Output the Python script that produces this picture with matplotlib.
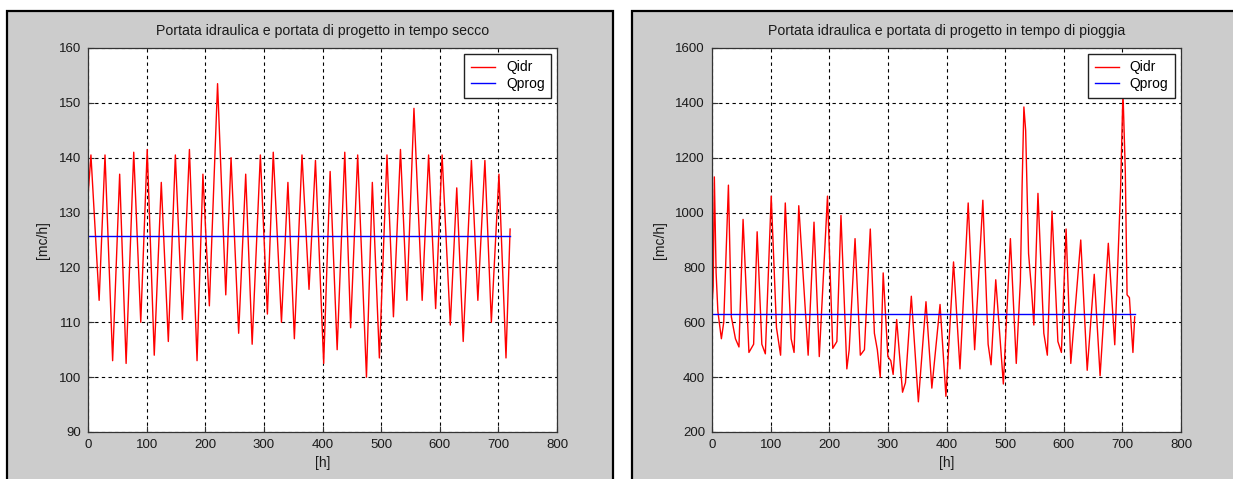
import matplotlib
matplotlib.use("Agg")
import matplotlib.pyplot as plt
from matplotlib.patches import Rectangle

plt.rcParams['font.family'] = ['Liberation Sans', 'DejaVu Sans']

# tempo secco: hourly flow, daily maxima / minima [h], [mc/h]
secco_ore = [0, 5, 19, 29, 42, 54, 65, 78, 90, 101, 113, 125, 137, 149, 161,
             173, 186, 196, 207, 221, 235, 244, 257, 269, 280, 294, 306, 316,
             330, 341, 352, 365, 377, 388, 402, 413, 425, 438, 448, 460, 475,
             485, 497, 510, 521, 533, 544, 556, 570, 581, 593, 604, 618, 629,
             640, 654, 665, 677, 688, 701, 713, 720]
secco_qidr = [133, 140.5, 114, 140.5, 103, 137, 102.5, 141, 110, 141.5, 104,
              135.5, 106.5, 140.5, 110.5, 141.5, 103, 137, 113, 153.5, 115,
              140, 108, 137, 106, 140.5, 111.5, 141, 110, 135.5, 107, 140.5,
              116, 139.5, 102.5, 137.5, 105, 141, 109, 140.5, 100, 135.5,
              103.5, 140.5, 111, 141.5, 114, 149, 114, 140.5, 112.5, 140.5,
              109.5, 134.5, 106.5, 139.5, 114, 139.5, 110, 137, 103.5, 127]
secco_qprog = 125.7

# tempo di pioggia
pioggia_ore = [0, 2, 4, 7, 10, 16, 20, 28, 33, 40, 46, 53, 63, 71, 77, 85,
               91, 101, 110, 117, 125, 135, 140, 148, 164, 174, 183, 197,
               206, 213, 220, 230, 234, 244, 253, 260, 270, 277, 282, 287,
               292, 300, 305, 309, 315, 325, 330, 340, 352, 365, 375, 389,
               399, 412, 423, 437, 448, 462, 471, 476, 484, 497, 509, 519,
               526, 529, 532, 535, 540, 545, 549, 556, 566, 572, 580, 590,
               596, 604, 612, 629, 640, 652, 662, 676, 687, 697, 701, 705,
               708, 712, 718, 721]
pioggia_qidr = [660, 730, 1130, 780, 640, 540, 600, 1100, 620, 540, 510, 975,
                490, 520, 930, 520, 485, 1060, 580, 480, 1035, 540, 490, 1025,
                480, 965, 475, 1060, 505, 530, 990, 430, 500, 905, 480, 500,
                940, 560, 500, 400, 780, 475, 460, 410, 610, 345, 380, 695,
                310, 675, 360, 665, 330, 820, 430, 1035, 500, 1045, 520, 445,
                755, 375, 905, 450, 750, 1100, 1385, 1300, 850, 720, 590,
                1070, 560, 480, 1005, 530, 490, 940, 450, 900, 425, 775, 405,
                888, 518, 1090, 1440, 1150, 700, 690, 490, 620]
pioggia_qprog = 630

W, H = 1233, 479
fig = plt.figure(figsize=(W / 100, H / 100), dpi=100, facecolor='white')

# grey MATLAB-like figure panels with black frame
for x0, x1 in [(7, 613), (632, 1250)]:
    fig.patches.append(Rectangle((x0 / W, -0.05), (x1 - x0) / W, 1 - 11 / H + 0.05,
                                 transform=fig.transFigure, facecolor='#cccccc',
                                 edgecolor='black', linewidth=1.6, zorder=-5))

fs = 9.5
pannelli = [
    (88, 'Portata idraulica e portata di progetto in tempo secco',
     secco_ore, secco_qidr, secco_qprog, (90, 160), range(90, 161, 10)),
    (712, 'Portata idraulica e portata di progetto in tempo di pioggia',
     pioggia_ore, pioggia_qidr, pioggia_qprog, (200, 1600), range(200, 1601, 200)),
]

for left, titolo, ore, qidr, qprog, ylim, yticks in pannelli:
    ax = fig.add_axes([left / W, (H - 432) / H, 469 / W, 384 / H])
    ax.set_facecolor('white')
    ax.plot(ore, qidr, color='#ff0000', lw=1.0, label='Qidr')
    ax.plot([0, ore[-1]], [qprog, qprog], color='#0000ff', lw=1.0, label='Qprog')
    ax.set_xlim(0, 800)
    ax.set_ylim(*ylim)
    ax.set_xticks(range(0, 801, 100))
    ax.set_yticks(list(yticks))
    ax.grid(True, color='black', linestyle=(0, (3, 3)), linewidth=0.8)
    ax.set_axisbelow(True)
    ax.tick_params(direction='in', length=4, width=0.8, labelsize=fs,
                   colors='#333333', labelcolor='#1a1a1a', pad=5)
    for s in ax.spines.values():
        s.set_color('#333333')
        s.set_linewidth(0.9)
    ax.set_title(titolo, fontsize=10.2, color='#1a1a1a', pad=9)
    ax.set_xlabel('[h]', fontsize=fs + 0.5, color='#1a1a1a', labelpad=4)
    ax.set_ylabel('[mc/h]', fontsize=fs + 0.5, color='#1a1a1a', labelpad=6)
    leg = ax.legend(loc='upper right', fontsize=10, fancybox=False,
                    framealpha=1, edgecolor='#222222', borderaxespad=0.4,
                    handlelength=1.75, handletextpad=0.75, labelspacing=0.15,
                    borderpad=0.5)
    leg.get_frame().set_linewidth(1.0)

fig.savefig('out.png', dpi=100, facecolor='white')
